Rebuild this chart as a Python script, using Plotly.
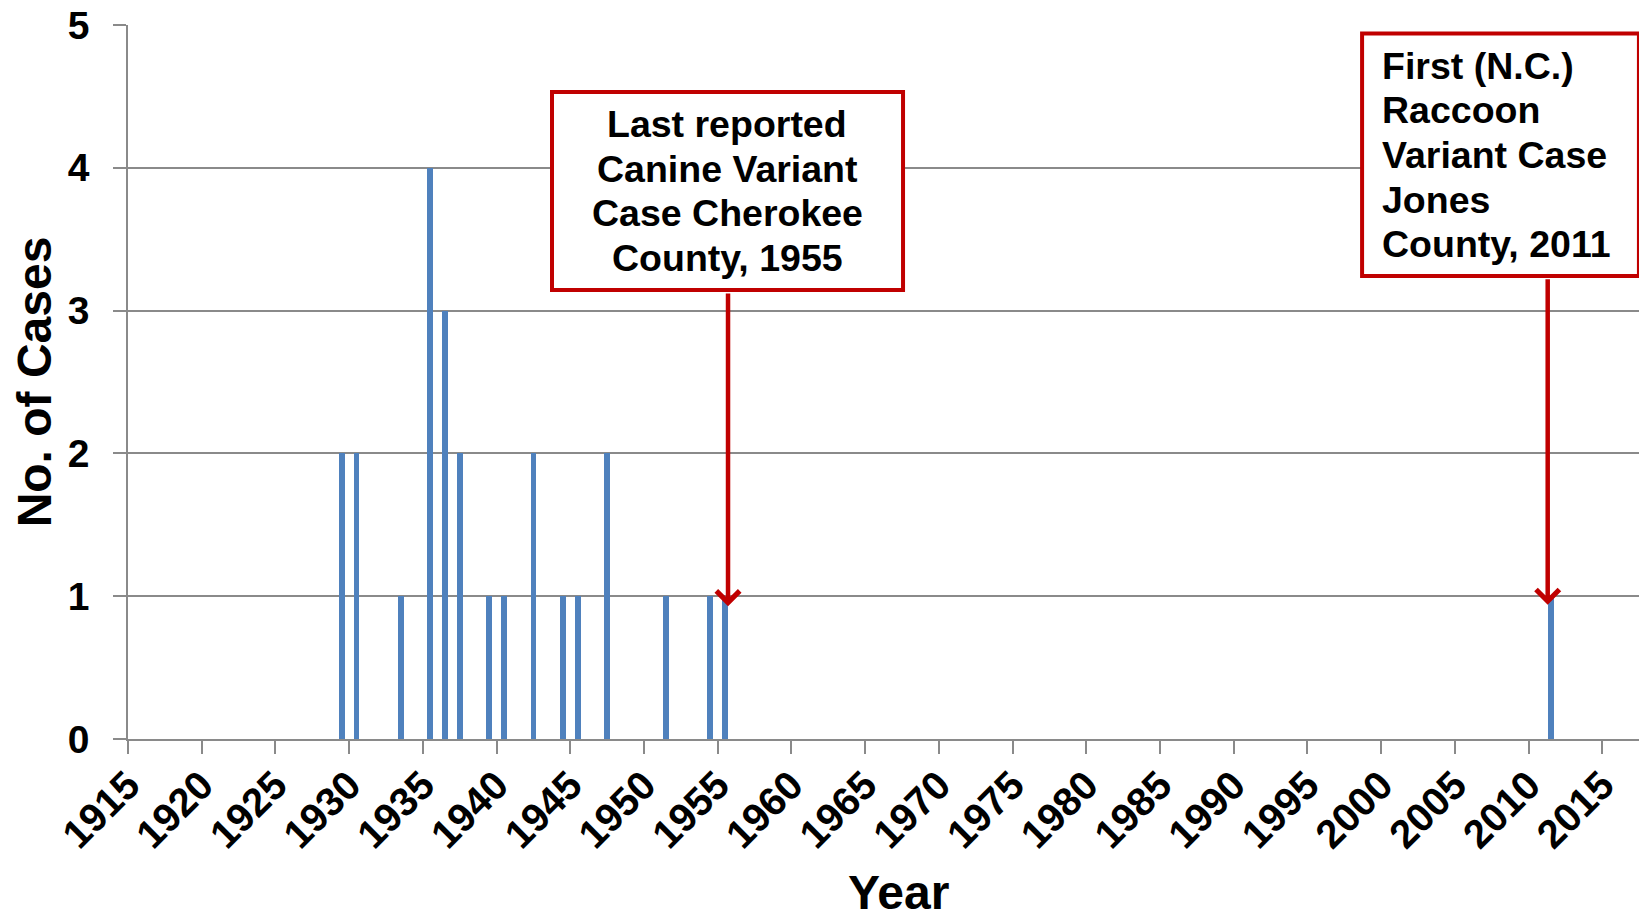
import plotly.graph_objects as go

# Data
years = [1929, 1930, 1933, 1935, 1936, 1937, 1939, 1940, 1942, 1944, 1945, 1947, 1951, 1954, 1955, 2011]
cases = [2, 2, 1, 4, 3, 2, 1, 1, 2, 1, 1, 2, 1, 1, 1, 1]
tick_years = list(range(1915, 2016, 5))
tick_labels = [str(y) for y in tick_years]

note1_lines = ["Last reported", "Canine Variant", "Case Cherokee", "County, 1955"]
note2_lines = ["First (N.C.)", "Raccoon", "Variant Case", "Jones", "County, 2011"]

FONT = "Liberation Sans, Arial, sans-serif"
GRID = "#8a8a8a"
RED = "#C00000"
BLUE = "#4F81BD"

# page has an 8px body margin; figure sized so it ends at the window edge
PLOT_H = 714.0

fig = go.Figure()
fig.add_trace(go.Bar(x=years, y=cases, width=0.39, marker=dict(color=BLUE, line=dict(width=0)),
                     showlegend=False))

fig.update_layout(
    width=1639, height=905,
    margin=dict(l=120, r=2, t=17, b=174, autoexpand=False),
    plot_bgcolor="white", paper_bgcolor="white",
    font=dict(family=FONT, color="black", size=36, weight="bold"),
    bargap=0,
)

fig.update_xaxes(
    range=[1914.5, 2017.4], automargin=False,
    tickvals=[y - 0.5 for y in tick_years], ticktext=tick_labels,
    tickangle=-45, tickfont=dict(size=40, family=FONT, weight="bold"),
    ticklabeloverflow="allow",
    showgrid=False, zeroline=False,
    showline=True, linecolor=GRID, linewidth=1.5,
    ticks="outside", ticklen=13, tickcolor=GRID, tickwidth=1.5,
    ticklabelstandoff=-8,
)
fig.update_yaxes(
    range=[0, 5.0001], dtick=1, tick0=0, automargin=False,
    tickfont=dict(size=39, family=FONT, weight="bold"),
    ticklabeloverflow="allow",
    showgrid=True, gridcolor=GRID, gridwidth=1.5,
    zeroline=False,
    showline=True, linecolor=GRID, linewidth=1.5,
    ticks="outside", ticklen=13, tickcolor=GRID, tickwidth=1.5,
    ticklabelstandoff=16,
    title=dict(text="No. of Cases", font=dict(size=48, family=FONT, weight="bold"), standoff=16),
)

# X axis title
fig.add_annotation(xref="paper", yref="paper", x=0.5076, y=-0.2143, xanchor="center", yanchor="middle",
                   text="Year", showarrow=False,
                   font=dict(size=48, family=FONT, weight="bold", color="black"))

# Note boxes (paper coordinates of the plot area)
fig.add_shape(type="rect", xref="paper", yref="paper", x0=0.2795, x1=0.5109, y0=0.6289, y1=0.9062,
              line=dict(color=RED, width=4), fillcolor="white", layer="above")
fig.add_shape(type="rect", xref="paper", yref="paper", x0=0.8135, x1=0.9960, y0=0.6485, y1=0.9881,
              line=dict(color=RED, width=4), fillcolor="white", layer="above")

LINE_STEP = 44.7 / PLOT_H
for i, line in enumerate(note1_lines):
    fig.add_annotation(xref="paper", yref="paper", x=0.395,
                       y=0.7675 + (len(note1_lines) - 1) / 2 * LINE_STEP - i * LINE_STEP,
                       xanchor="center", yanchor="middle", text=line, showarrow=False,
                       font=dict(size=37.5, family=FONT, weight="bold", color="black"))
for i, line in enumerate(note2_lines):
    fig.add_annotation(xref="paper", yref="paper", x=0.8253,
                       y=0.818 + (len(note2_lines) - 1) / 2 * LINE_STEP - i * LINE_STEP,
                       xanchor="left", yanchor="middle", text=line, showarrow=False,
                       font=dict(size=37.5, family=FONT, weight="bold", color="black"))

# Arrows
fig.add_annotation(x=1955.2, y=0.93, ax=1955.2, ay=3.13, xref="x", yref="y", axref="x", ayref="y",
                   text="", showarrow=True, arrowhead=4, arrowsize=1, arrowwidth=4.5, arrowcolor=RED)
fig.add_annotation(x=2010.8, y=0.94, ax=2010.8, ay=3.23, xref="x", yref="y", axref="x", ayref="y",
                   text="", showarrow=True, arrowhead=4, arrowsize=1, arrowwidth=4.5, arrowcolor=RED)

fig.write_html("out.html")
